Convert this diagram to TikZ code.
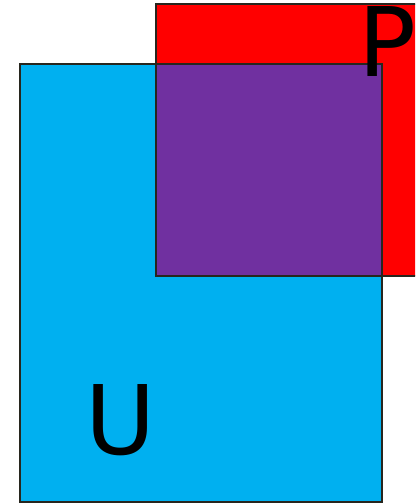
\documentclass[tikz,border=0pt]{standalone}
\usepackage{fontspec}
\setmainfont{DejaVu Sans}
\usepackage{tikz}
\definecolor{setU}{HTML}{00B0F0}
\definecolor{setP}{HTML}{FF0000}
\definecolor{setUP}{HTML}{7030A0}
\definecolor{edge}{HTML}{27261E}

\begin{document}
\begin{tikzpicture}[x=1pt,y=-1pt,font=\fontsize{96}{96}\selectfont]
\useasboundingbox (0,0) rectangle (415,503);
\clip (0,0) rectangle (415,503);
\fill[setU] (20,64) rectangle (382,502);
\fill[setP] (156,4) rectangle (440,276);
\fill[setUP] (156,64) rectangle (382,276);
\draw[edge,line width=2pt] (20,64) rectangle (382,502);
\draw[edge,line width=2pt] (156,4) rectangle (440,276);
\node[anchor=base west,inner sep=0] (labP) at (358,77) {P};
\node[anchor=base west,inner sep=0] (labU) at (85,454) {U};
\end{tikzpicture}
\end{document}
